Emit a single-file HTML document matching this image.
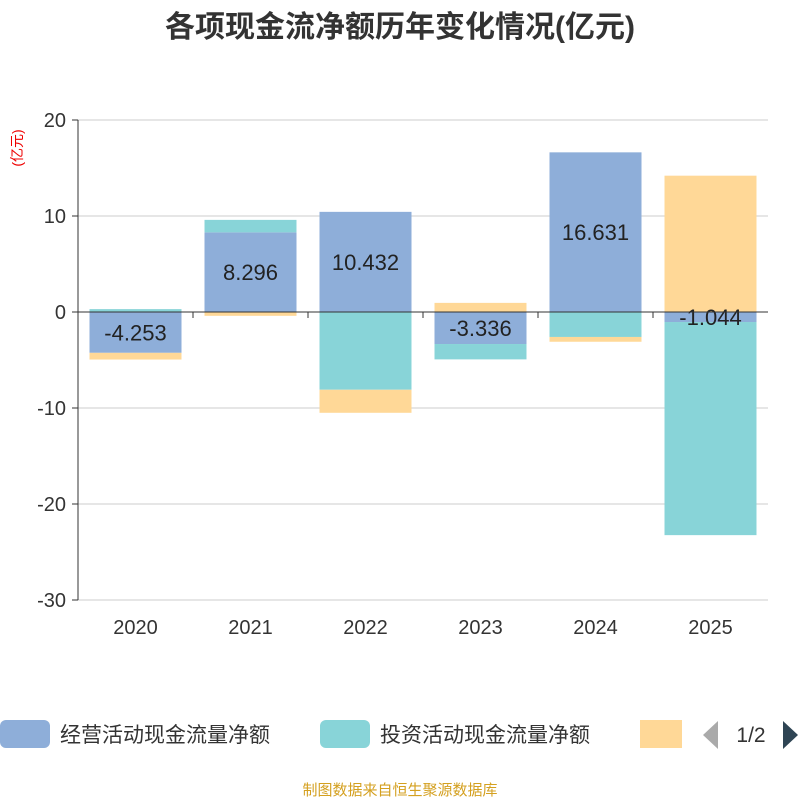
<!DOCTYPE html>
<html><head><meta charset="utf-8"><style>
body{margin:0;background:#fff;font-family:"Liberation Sans","Noto Sans CJK SC",sans-serif}
</style></head><body>
<svg id="c" width="800" height="800" xmlns="http://www.w3.org/2000/svg">
<text x="400" y="37" text-anchor="middle" font-size="30" font-weight="bold" fill="#333" font-family="Liberation Sans,Noto Sans CJK SC,sans-serif">各项现金流净额历年变化情况(亿元)</text>
<text transform="translate(22,148) rotate(-90)" text-anchor="middle" font-size="14" fill="#e00" font-family="Liberation Sans,Noto Sans CJK SC,sans-serif">(亿元)</text>
<g id="grid"></g><g id="bars"></g><g id="labels"></g><g id="axes"></g>
<g>
<rect x="0" y="720" width="50" height="28" rx="6" fill="#8eaed9"/>
<text x="60" y="742" font-size="21" fill="#333" font-family="Liberation Sans,Noto Sans CJK SC,sans-serif">经营活动现金流量净额</text>
<rect x="320" y="720" width="50" height="28" rx="6" fill="#88d4d8"/>
<text x="380" y="742" font-size="21" fill="#333" font-family="Liberation Sans,Noto Sans CJK SC,sans-serif">投资活动现金流量净额</text>
<rect x="640" y="720" width="42" height="28" fill="#ffd897"/>
<polygon points="718,721 718,749 703,735" fill="#aaa"/>
<text x="751" y="742" text-anchor="middle" font-size="21" fill="#333">1/2</text>
<polygon points="783,721 783,749 798,735" fill="#2f4554"/>
</g>
<text x="400" y="795" text-anchor="middle" font-size="15" fill="#d4a020" font-family="Liberation Sans,Noto Sans CJK SC,sans-serif">制图数据来自恒生聚源数据库</text>
</svg>
<script>
const categories=["2020","2021","2022","2023","2024","2025"];
const operating=[-4.253,8.296,10.432,-3.336,16.631,-1.044];
const investing=[0.3,1.3,-8.1,-1.6,-2.6,-22.2];
const financing=[-0.7,-0.4,-2.4,0.95,-0.5,14.2];
const yTicks=[20,10,0,-10,-20,-30];
const NS="http://www.w3.org/2000/svg";
const L=78,R=768,T=120,B=600,ymax=20,ymin=-30;
const y=v=>T+(ymax-v)/(ymax-ymin)*(B-T);
const band=(R-L)/categories.length;
const xc=i=>L+band*(i+0.5);
function mk(tag,attrs,parent){const e=document.createElementNS(NS,tag);for(const k in attrs)e.setAttribute(k,attrs[k]);document.getElementById(parent).appendChild(e);return e;}
yTicks.forEach(t=>{
 const g=mk("line",{x1:L,x2:R,y1:y(t),y2:y(t),stroke:t===0?"none":"#ccc","stroke-width":1},"grid");
 
 
 const tk=mk("line",{x1:L-6,x2:L,y1:y(t),y2:y(t),stroke:"#333"},"axes");
 
 
 const tx=mk("text",{x:L-12,y:y(t)+7,"text-anchor":"end","font-size":20,fill:"#333"},"axes");
 tx.textContent=t;
 
 
});
const ya=mk("line",{x1:L,x2:L,y1:T,y2:B,stroke:"#333"},"axes");


const xa=mk("line",{x1:L,x2:R,y1:y(0),y2:y(0),stroke:"#333"},"axes");


const series=[[operating,"#8eaed9","operating"],[investing,"#88d4d8","investing"],[financing,"#ffd897","financing"]];
categories.forEach((c,i)=>{
 const tk=mk("line",{x1:L+band*i,x2:L+band*i,y1:y(0),y2:y(0)+6,stroke:"#333"},"axes");
 
 
 const tx=mk("text",{x:xc(i),y:B+34,"text-anchor":"middle","font-size":20,fill:"#333"},"axes");
 tx.textContent=c;
 
 
 let pos=0,neg=0;
 series.forEach(([arr,col,nm])=>{
  const v=arr[i];let a,b;
  if(v>=0){a=pos;b=pos+v;pos=b;}else{a=neg;b=neg+v;neg=b;}
  const r=mk("rect",{x:xc(i)-46,width:92,y:Math.min(y(a),y(b)),height:Math.abs(y(a)-y(b)),fill:col},"bars");
  
  
 });
 const lb=mk("text",{x:xc(i),y:y(operating[i]/2)+8,"text-anchor":"middle","font-size":22,fill:"#222"},"labels");
 lb.textContent=operating[i].toFixed(3);
 
 
});
</script>
</body></html>
